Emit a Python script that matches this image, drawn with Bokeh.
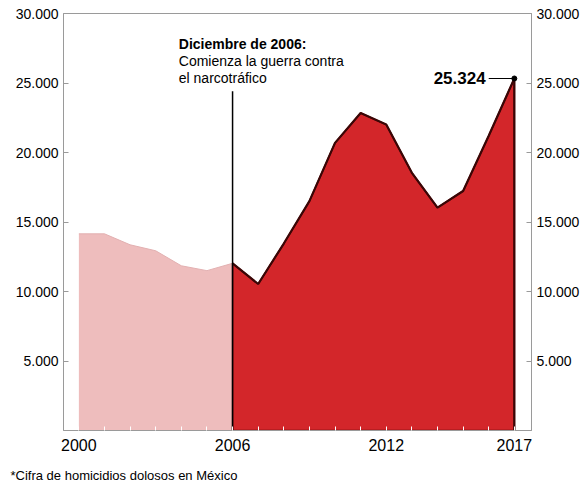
from bokeh.plotting import figure
from bokeh.models import LinearAxis, FixedTicker, Label
from bokeh.embed import file_html
from bokeh.resources import INLINE

# ---- data ----
years_before = [2000, 2001, 2002, 2003, 2004, 2005, 2006]
homicides_before = [14150, 14150, 13360, 12930, 11850, 11500, 12030]
years_war = [2006, 2007, 2008, 2009, 2010, 2011, 2012, 2013, 2014, 2015, 2016, 2017]
homicides_war = [12030, 10540, 13450, 16500, 20690, 22840, 22010, 18540, 16030, 17230, 21200, 25324]
y_ticks = [5000, 10000, 15000, 20000, 25000, 30000]
y_tick_labels = ["5.000", "10.000", "15.000", "20.000", "25.000", "30.000"]
x_ticks = list(range(2000, 2018))
x_tick_labels = {2000: "2000", 2006: "2006", 2012: "2012", 2017: "2017"}
event_year = 2006
event_line_top = 24400
last_label = "25.324"
annotation_lines = ["Diciembre de 2006:", "Comienza la guerra contra", "el narcotráfico"]
annotation_y = [27775, 26550, 25330]
footnote = "*Cifra de homicidios dolosos en México"

FONT = "Liberation Sans"
PINK = "#EEBDBD"
RED = "#D3262A"
DARK = "#3a0606"
GREY = "#9a9a9a"

p = figure(width=585, height=483, x_range=(1999.40, 2017.67), y_range=(0, 30000),
           output_backend="svg", toolbar_location=None,
           min_border_left=63, min_border_right=54, min_border_top=13, min_border_bottom=53)
p.xgrid.visible = False
p.ygrid.visible = False
p.outline_line_color = GREY
p.outline_line_width = 1
p.background_fill_color = "white"
p.border_fill_color = "white"

# pink area (before the war)
p.varea(x=years_before, y1=[0] * len(years_before), y2=homicides_before,
        fill_color=PINK)
p.line(x=years_before, y=homicides_before, line_color="#e2b0b1", line_width=1)

# red area (war)
patch_x = years_war + [years_war[-1], years_war[0]]
patch_y = homicides_war + [0, 0]
p.patch(x=patch_x, y=patch_y, fill_color=RED, line_color="#6a0b0b", line_width=1.5)
p.line(x=years_war, y=homicides_war, line_color=DARK, line_width=2.2)
p.segment(x0=[years_war[-1]], y0=[0], x1=[years_war[-1]], y1=[homicides_war[-1]],
          line_color=DARK, line_width=2.2)

# event line
p.segment(x0=[event_year], y0=[0], x1=[event_year], y1=[event_line_top],
          line_color="black", line_width=1.5)

# last value label
p.segment(x0=[years_war[-1] - 1.0], y0=[homicides_war[-1]], x1=[years_war[-1]],
          y1=[homicides_war[-1]], line_color="black", line_width=1.2)
p.scatter(x=[years_war[-1]], y=[homicides_war[-1]], size=5, color="black")
p.add_layout(Label(x=years_war[-1] - 1.12, y=homicides_war[-1], text=last_label,
                   text_font=FONT, text_font_size="17px", text_font_style="bold",
                   text_align="right", text_baseline="middle", text_color="black"))

# annotation text
for i, (line, yv) in enumerate(zip(annotation_lines, annotation_y)):
    p.add_layout(Label(x=2003.9, y=yv, text=line, text_font=FONT, text_font_size="14px",
                       text_font_style="bold" if i == 0 else "normal",
                       text_color="black", text_baseline="alphabetic"))

# footnote (below the axis)
p.add_layout(Label(x=-53, y=-14, x_units="screen", y_units="screen", text=footnote,
                   text_font=FONT, text_font_size="13px", text_color="black",
                   text_baseline="bottom"), "below")

# axes
def style_y(ax):
    ax.ticker = FixedTicker(ticks=y_ticks)
    ax.major_label_overrides = {t: l for t, l in zip(y_ticks, y_tick_labels)}
    ax.axis_line_color = GREY
    ax.major_tick_line_color = GREY
    ax.major_tick_in = 5
    ax.major_tick_out = 0
    ax.minor_tick_line_color = None
    ax.major_label_text_font = FONT
    ax.major_label_text_font_size = "14px"
    ax.major_label_text_color = "black"
    ax.major_label_standoff = 5

style_y(p.yaxis[0])
right = LinearAxis()
style_y(right)
p.add_layout(right, "right")

xa = p.xaxis[0]
xa.ticker = FixedTicker(ticks=x_ticks)
xa.major_label_overrides = {t: x_tick_labels.get(t, "") for t in x_ticks}
xa.axis_line_color = GREY
xa.major_tick_line_color = "white"
xa.major_tick_in = 4
xa.major_tick_out = 0
xa.minor_tick_line_color = None
xa.major_label_text_font = FONT
xa.major_label_text_font_size = "16px"
xa.major_label_text_color = "black"
xa.major_label_standoff = 8

open("out.html", "w").write(file_html(p, INLINE))
